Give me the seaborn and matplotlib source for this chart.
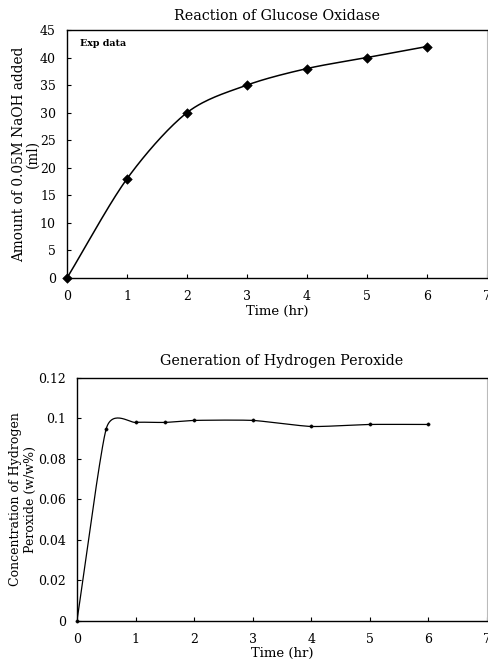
import numpy as np
import pandas as pd
import matplotlib
matplotlib.use("Agg")
import matplotlib.pyplot as plt
from matplotlib.ticker import FuncFormatter
import seaborn as sns

# ---- data ----
naoh_time = [0, 1, 2, 3, 4, 5, 6]
naoh_ml = [0, 18, 30, 35, 38, 40, 42]

h2o2_time = [0, 0.5, 1, 1.5, 2, 3, 4, 5, 6]
h2o2_conc = [0, 0.095, 0.098, 0.098, 0.099, 0.099, 0.096, 0.097, 0.097]

top_title = "Reaction of Glucose Oxidase"
bot_title = "Generation of Hydrogen Peroxide"
top_ylabel = "Amount of 0.05M NaOH added\n(ml)"
bot_ylabel = "Concentration of Hydrogen\nPeroxide (w/w%)"
xlabel = "Time (hr)"


def smooth(xs, ys, c=0.5, n=30):
    """Cardinal spline through the points (tangent scale c), by index."""
    x = np.asarray(xs, float)
    y = np.asarray(ys, float)
    px = np.concatenate([[2 * x[0] - x[1]], x, [2 * x[-1] - x[-2]]])
    py = np.concatenate([[2 * y[0] - y[1]], y, [2 * y[-1] - y[-2]]])
    t = np.linspace(0, 1, n, endpoint=False)
    h00 = 2 * t ** 3 - 3 * t ** 2 + 1
    h10 = t ** 3 - 2 * t ** 2 + t
    h01 = -2 * t ** 3 + 3 * t ** 2
    h11 = t ** 3 - t ** 2
    ox, oy = [], []
    for i in range(1, len(px) - 2):
        for arr, out in ((px, ox), (py, oy)):
            p0, p1, p2, p3 = arr[i - 1], arr[i], arr[i + 1], arr[i + 2]
            m1 = c * (p2 - p0)
            m2 = c * (p3 - p1)
            out.extend(h00 * p1 + h10 * m1 + h01 * p2 + h11 * m2)
    ox.append(x[-1]); oy.append(y[-1])
    return pd.DataFrame({"x": ox, "y": oy})


sns.set_theme(style="white")
plt.rcParams["font.family"] = ["DejaVu Serif"]
plt.rcParams["text.color"] = "black"
plt.rcParams["axes.labelcolor"] = "black"
plt.rcParams["axes.titlecolor"] = "black"

fig = plt.figure(figsize=(4.88, 6.63), dpi=100)
ax1 = fig.add_axes([0.1373, 0.5807, 0.8607, 0.3741])
ax2 = fig.add_axes([0.1578, 0.0641, 0.8402, 0.3658])

fmt = FuncFormatter(lambda v, p: f"{v:g}")

# top chart
df1 = pd.DataFrame({"t": naoh_time, "v": naoh_ml})
s1 = smooth(naoh_time, naoh_ml, c=0.45)
sns.lineplot(data=s1, x="x", y="y", sort=False, estimator=None, color="black",
             linewidth=1.1, ax=ax1)
sns.scatterplot(data=df1, x="t", y="v", marker="D", s=24, color="black",
                edgecolor="black", ax=ax1, zorder=5, clip_on=False)
ax1.set_xlim(0, 7)
ax1.set_ylim(0, 45)
ax1.set_xticks(range(0, 8))
ax1.set_yticks(range(0, 46, 5))
ax1.set_title(top_title, fontsize=10.3, pad=7)
ax1.set_xlabel(xlabel, fontsize=9.5, labelpad=1)
ax1.set_ylabel(top_ylabel, fontsize=9.9, labelpad=0, linespacing=1.0)
ax1.text(0.03, 0.965, "Exp data", transform=ax1.transAxes, fontsize=6.8,
         fontweight="bold", va="top", ha="left")

# bottom chart
df2 = pd.DataFrame({"t": h2o2_time, "v": h2o2_conc})
s2 = smooth(h2o2_time, h2o2_conc, c=0.3)
sns.lineplot(data=s2, x="x", y="y", sort=False, estimator=None, color="black",
             linewidth=0.9, ax=ax2)
sns.scatterplot(data=df2, x="t", y="v", marker="o", s=6, color="black",
                edgecolor="black", ax=ax2, zorder=5, clip_on=False)
ax2.set_xlim(0, 7)
ax2.set_ylim(0, 0.12)
ax2.set_xticks(range(0, 8))
ax2.set_yticks(np.arange(0, 0.121, 0.02))
ax2.set_title(bot_title, fontsize=10.3, pad=9)
ax2.set_xlabel(xlabel, fontsize=9.5, labelpad=1)
ax2.set_ylabel(bot_ylabel, fontsize=9, labelpad=1, linespacing=1.2)

for ax in (ax1, ax2):
    ax.yaxis.set_major_formatter(fmt)
    ax.tick_params(axis="both", direction="in", length=3, width=0.8,
                   labelsize=9, colors="black")
    ax.tick_params(axis="x", bottom=True, pad=9)
    ax.tick_params(axis="y", left=True, pad=8)
    for side in ("left", "bottom", "top"):
        ax.spines[side].set_color("black")
        ax.spines[side].set_linewidth(1.0)
    ax.spines["right"].set_color("#bbbbbb")
    ax.spines["right"].set_linewidth(0.8)
    ax.set_facecolor("white")

fig.savefig("out.png", dpi=100, facecolor="white")
